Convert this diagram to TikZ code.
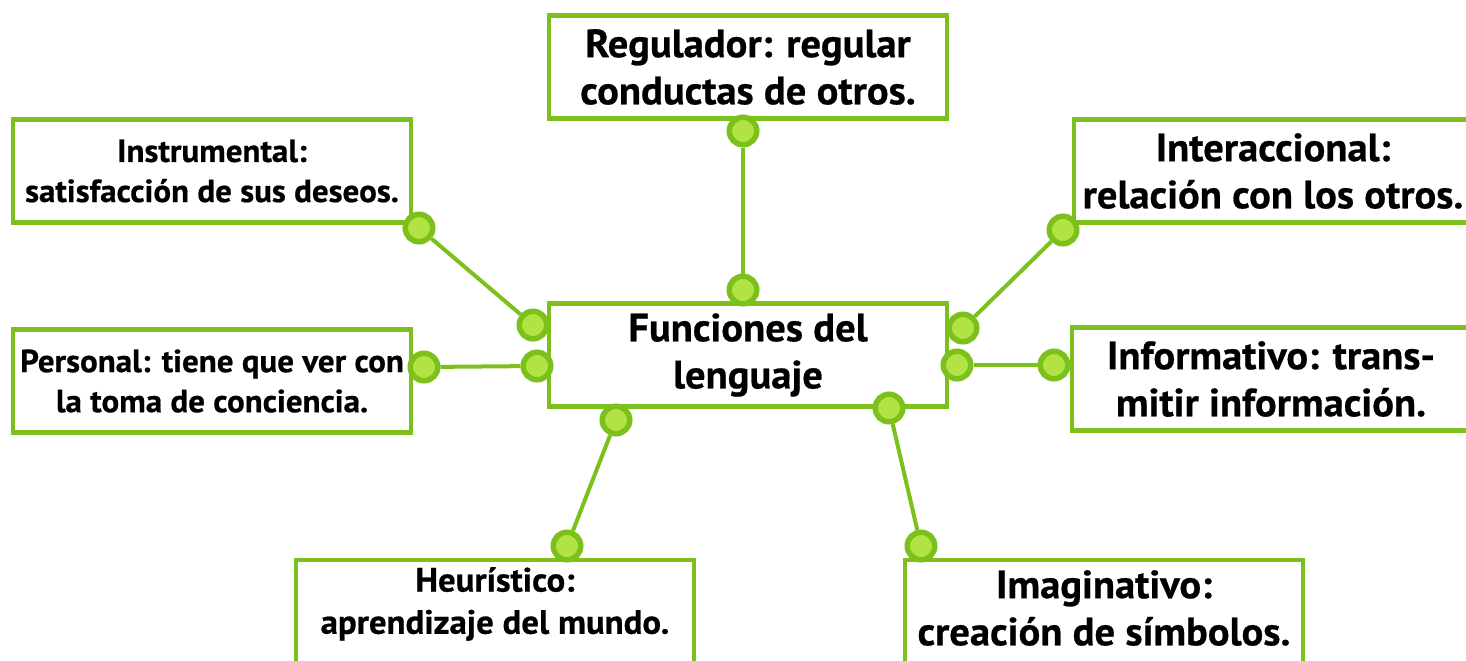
\documentclass[tikz,border=0pt]{standalone}
\usepackage{fontspec}
\setmainfont{PT Sans}[BoldFeatures={FakeStretch=1.03,FakeBold=0.6}]
\definecolor{gstroke}{RGB}{124,192,28}
\definecolor{gfill}{RGB}{178,227,68}
\begin{document}
\begin{tikzpicture}[x=0.01cm,y=-0.01cm,
 box/.style={draw=gstroke,line width=0.045cm,fill=white,minimum width=3.98cm,minimum height=1.03cm,align=center,inner sep=0pt,font=\bfseries\fontsize{11.2}{13.4}\selectfont},
 smallbox/.style={box,font=\bfseries\fontsize{9.1}{11.4}\selectfont},
 plain/.style={align=center,inner sep=0pt},
 dot/.style={circle,draw=gstroke,fill=gfill,line width=0.055cm,minimum size=0.275cm,inner sep=0pt},
 link/.style={draw=gstroke,line width=0.04cm}]
\useasboundingbox (0,0) rectangle (1466,660);
\node[box] (cen) at (748,355) {Funciones del\\lenguaje};
\node[box] (reg) at (748,67) {Regulador: regular\\conductas de otros.};
\node[smallbox] (ins) at (212,171) {Instrumental:\\satisfacción de sus deseos.};
\node[box] (int) at (1273,171) {Interaccional:\\relación con los otros.};
\node[smallbox] (per) at (212,381) {Personal: tiene que ver con\\la toma de conciencia.};
\node[box] (inf) at (1271,379) {Informativo: trans-\\mitir información.};
\node[box,minimum height=1.3cm] (heu) at (495,625) {};
\node[plain,font=\bfseries\fontsize{9.6}{12}\selectfont] (heut) at (495,604) {Heurístico:\\aprendizaje del mundo.};
\node[box,minimum height=1.3cm] (ima) at (1104,625) {};
\node[plain,font=\bfseries\fontsize{11.2}{13.4}\selectfont] (imat) at (1104,608) {Imaginativo:\\creación de símbolos.};
\node[dot] (d1) at (743,131) {};
\node[dot] (d2) at (743,290) {};
\node[dot] (d3) at (419,228) {};
\node[dot] (d4) at (533,325) {};
\node[dot] (d5) at (1063,230) {};
\node[dot] (d6) at (963,328) {};
\node[dot] (d7) at (424,367) {};
\node[dot] (d8) at (537,366) {};
\node[dot] (d9) at (1054,365) {};
\node[dot] (d10) at (957,365) {};
\node[dot] (d11) at (567,546) {};
\node[dot] (d12) at (616,420) {};
\node[dot] (d13) at (921,546) {};
\node[dot] (d14) at (889,408) {};
\draw[link] (d1) -- (d2);
\draw[link] (d3) -- (d4);
\draw[link] (d5) -- (d6);
\draw[link] (d7) -- (d8);
\draw[link] (d9) -- (d10);
\draw[link] (d11) -- (d12);
\draw[link] (d13) -- (d14);
\end{tikzpicture}
\end{document}
